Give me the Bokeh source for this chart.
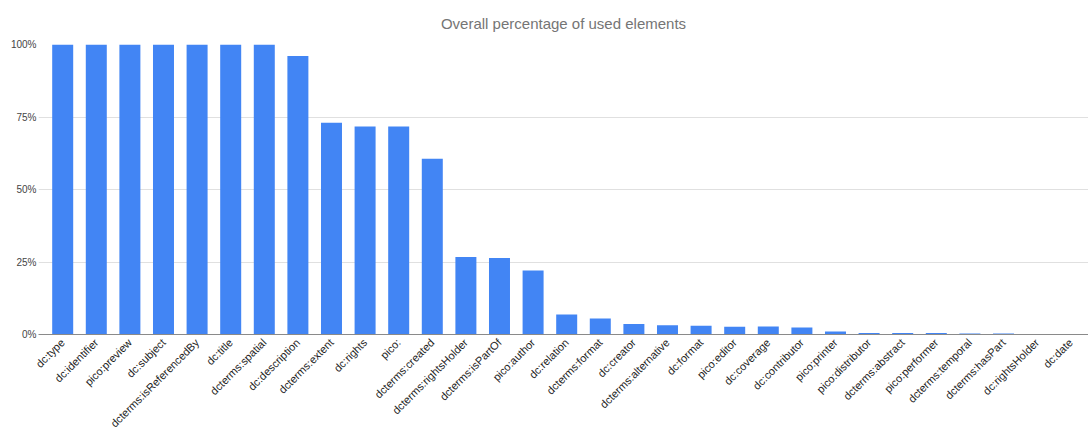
from bokeh.plotting import figure
from bokeh.models import ColumnDataSource, Range1d, FixedTicker, PrintfTickFormatter
from bokeh.embed import file_html
from bokeh.resources import INLINE
import math

title_text = "Overall percentage of used elements"
elements = [
    "dc:type", "dc:identifier", "pico:preview", "dc:subject", "dcterms:isReferencedBy",
    "dc:title", "dcterms:spatial", "dc:description", "dcterms:extent", "dc:rights",
    "pico:", "dcterms:created", "dcterms:rightsHolder", "dcterms:isPartOf", "pico:author",
    "dc:relation", "dcterms:format", "dc:creator", "dcterms:alternative", "dc:format",
    "pico:editor", "dc:coverage", "dc:contributor", "pico:printer", "pico:distributor",
    "dcterms:abstract", "pico:performer", "dcterms:temporal", "dcterms:hasPart",
    "dc:rightsHolder", "dc:date",
]
percentages = [
    100, 100, 100, 100, 100,
    100, 100, 96.0, 73.0, 71.7,
    71.7, 60.6, 26.7, 26.4, 22.1,
    6.9, 5.5, 3.6, 3.2, 3.0,
    2.7, 2.8, 2.4, 1.0, 0.5,
    0.5, 0.5, 0.35, 0.35,
    0, 0,
]
y_ticks = [0, 25, 50, 75, 100]

FONT = "Liberation Sans"

idx = list(range(len(elements)))
source = ColumnDataSource(data=dict(x=idx, top=percentages, name=elements))

p = figure(
    width=1088, height=437,
    output_backend="svg", toolbar_location=None,
    x_range=Range1d(-0.72, len(elements) - 0.47),
    y_range=Range1d(0, 100),
    title=title_text,
    min_border_left=38, min_border_right=0, min_border_top=0, min_border_bottom=103,
)
p.outline_line_color = None
p.background_fill_color = "white"
p.border_fill_color = "white"

p.title.align = "center"
p.title.text_font = FONT
p.title.text_font_size = "15px"
p.title.text_font_style = "normal"
p.title.text_color = "#757575"
p.title.standoff = 25
p.title.offset = -12

p.vbar(x="x", top="top", width=0.625, bottom=0, source=source,
       fill_color="#4285F4", line_color=None)

# y axis
p.yaxis.ticker = FixedTicker(ticks=y_ticks)
p.yaxis.formatter = PrintfTickFormatter(format="%d%%")
p.yaxis.axis_line_color = None
p.yaxis.major_tick_line_color = None
p.yaxis.minor_tick_line_color = None
p.yaxis.major_tick_out = 0
p.yaxis.major_tick_in = 0
p.yaxis.major_label_text_font = FONT
p.yaxis.major_label_text_font_size = "10px"
p.yaxis.major_label_text_color = "#444444"
p.yaxis.major_label_standoff = 2

# x axis
p.xaxis.ticker = FixedTicker(ticks=idx)
p.xaxis.major_label_overrides = {i: n for i, n in zip(idx, elements)}
p.xaxis.major_label_orientation = math.pi / 4
p.xaxis.axis_line_color = "#8a8a8a"
p.xaxis.axis_line_width = 1
p.xaxis.major_tick_line_color = None
p.xaxis.minor_tick_line_color = None
p.xaxis.major_tick_out = 0
p.xaxis.major_tick_in = 0
p.xaxis.major_label_text_font = FONT
p.xaxis.major_label_text_font_size = "11px"
p.xaxis.major_label_text_color = "#222222"
p.xaxis.major_label_standoff = 6

p.xgrid.grid_line_color = None
p.ygrid.grid_line_color = "#e0e0e0"
p.ygrid.grid_line_width = 1

open("out.html", "w").write(file_html(p, INLINE))
